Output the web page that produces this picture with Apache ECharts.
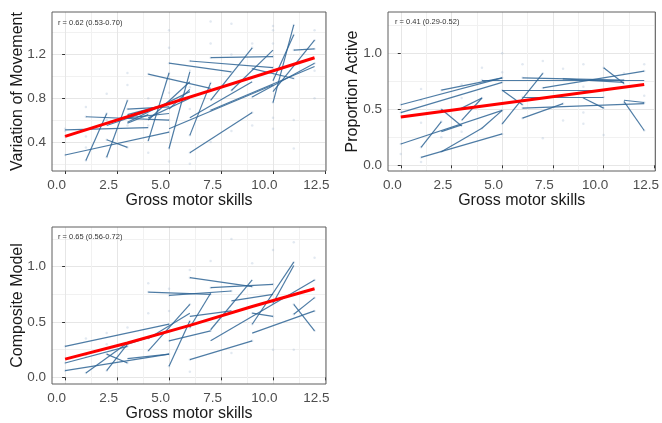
<!DOCTYPE html>
<html><head><meta charset="utf-8">
<script src="https://cdn.jsdelivr.net/npm/echarts@6/dist/echarts.min.js"></script>
<style>html,body{margin:0;padding:0;background:#fff}#c{width:662px;height:423px}</style>
</head><body><div id="c"></div>
<script>
// ---------- data ----------
const xTicks = [0, 2.5, 5, 7.5, 10, 12.5];
const xMinor = [1.25, 3.75, 6.25, 8.75, 11.25];
const xTitle = 'Gross motor skills';

const vomTitle = 'Variation of Movement';
const vomNote = 'r = 0.62 (0.53-0.70)';
const vomTicks = [0.4, 0.8, 1.2];
const vomMinor = [0.2, 0.6, 1.0, 1.4];
const vomFit = [[0, 0.45], [12, 1.17]];
const vomSegments = [
  [0,0.28,5,0.49],[0,0.51,4,0.53],[1,0.63,5,0.60],[1,0.23,2,0.66],[2,0.26,3,0.78],
  [2,0.42,3,0.35],[3,0.70,5,0.72],[3,0.58,6,0.86],[4,0.41,5,1.03],[4,0.60,6,0.95],
  [4,1.02,7,0.89],[5,0.34,6,1.04],[5,0.52,10,0.92],[5,1.12,8,1.04],[6,1.14,10,1.08],
  [6,0.46,7,0.94],[6,0.30,9,0.67],[7,1.17,10,1.18],[7,0.78,9,1.26],[7,0.69,12,1.09],
  [8,0.87,10,1.24],[9,0.81,12,1.12],[10,0.76,11,1.47],[10,0.86,12,1.33],[11,1.24,12,1.25],
  [10,0.96,11,1.38],[9,1.07,11,0.98],[3,0.62,5,0.66],[2,0.55,4,0.68],[6,0.62,9,0.95],
  [3,0.57,4,0.65],[4,0.62,6,0.80],[5,0.70,6,0.88],[3,0.65,5,0.75]
];
const vomPoints = [
  [0,0.28],[0,0.45],[0,0.50],[0,0.52],
  [1,0.23],[1,0.35],[1,0.45],[1,0.63],[1,0.72],
  [2,0.26],[2,0.42],[2,0.60],[2,0.66],[2,0.84],
  [3,0.35],[3,0.55],[3,0.70],[3,0.78],[3,0.92],[3,1.03],
  [4,0.30],[4,0.41],[4,0.55],[4,0.65],[4,0.80],[4,1.02],
  [5,0.22],[5,0.34],[5,0.49],[5,0.60],[5,0.72],[5,0.85],[5,1.03],[5,1.12],[5,1.26],[5,1.42],
  [6,0.20],[6,0.30],[6,0.46],[6,0.70],[6,0.90],[6,1.05],[6,1.14],
  [7,0.40],[7,0.69],[7,0.94],[7,1.17],[7,1.30],[7,1.50],
  [8,0.50],[8,0.87],[8,1.04],[8,1.20],[8,1.48],
  [9,0.55],[9,0.67],[9,0.81],[9,1.07],[9,1.26],[9,1.30],
  [10,0.52],[10,0.62],[10,0.76],[10,0.92],[10,1.08],[10,1.18],[10,1.30],[10,1.42],[10,1.46],
  [11,0.34],[11,0.60],[11,0.98],[11,1.24],[11,1.38],[11,1.47],
  [12,0.80],[12,1.05],[12,1.12],[12,1.25],[12,1.33],[12,1.42]
];

const paTitle = 'Proportion Active';
const paNote = 'r = 0.41 (0.29-0.52)';
const paTicks = [0, 0.5, 1.0];
const paMinor = [0.25, 0.75, 1.25];
const paFit = [[0, 0.43], [12, 0.72]];
const paSegments = [
  [0,0.54,5,0.78],[0,0.47,5,0.74],[0,0.19,5,0.49],[1,0.16,2,0.39],[1,0.07,5,0.28],
  [2,0.50,3,0.35],[2,0.12,4,0.33],[2,0.67,5,0.78],[3,0.51,4,0.60],[4,0.33,5,0.49],
  [4,0.76,12,0.76],[5,0.67,6,0.54],[5,0.37,7,0.82],[5,0.67,10,0.67],[6,0.42,8,0.55],
  [6,0.78,11,0.76],[6,0.61,10,0.61],[6,0.51,12,0.55],[7,0.69,12,0.84],[9,0.60,10,0.51],
  [10,0.87,11,0.73],[11,0.57,12,0.31],[11,0.58,12,0.56],[8,0.77,11,0.74],[2,0.30,3,0.36],
  [3,0.40,4,0.60]
];
const paPoints = [
  [0,0.10],[0,0.19],[0,0.47],[0,0.54],
  [1,0.03],[1,0.07],[1,0.16],[1,0.38],[1,0.58],[1,0.68],
  [2,0.12],[2,0.25],[2,0.39],[2,0.50],[2,0.67],
  [3,0.30],[3,0.36],[3,0.51],[3,0.60],[3,0.72],
  [4,0.33],[4,0.60],[4,0.76],[4,0.87],
  [5,0.28],[5,0.37],[5,0.49],[5,0.67],[5,0.74],[5,0.78],[5,0.83],[5,1.00],
  [6,0.42],[6,0.51],[6,0.54],[6,0.61],[6,0.78],[6,0.90],
  [7,0.24],[7,0.69],[7,0.82],[7,0.93],
  [8,0.40],[8,0.55],[8,0.77],[8,0.86],
  [9,0.37],[9,0.47],[9,0.60],[9,0.70],[9,0.90],
  [10,0.27],[10,0.51],[10,0.61],[10,0.67],[10,0.87],
  [11,0.55],[11,0.73],[11,0.76],[11,0.82],
  [12,0.31],[12,0.56],[12,0.62],[12,0.84],[12,0.90]
];

const cmTitle = 'Composite Model';
const cmNote = 'r = 0.65 (0.56-0.72)';
const cmTicks = [0, 0.5, 1.0];
const cmMinor = [0.25, 0.75, 1.25];
const cmFit = [[0, 0.165], [3, 0.31], [6, 0.47], [9, 0.64], [12, 0.80]];
const cmSegments = [
  [0,0.28,5,0.48],[0,0.06,5,0.21],[0,0.13,3,0.28],[1,0.04,3,0.31],[2,0.06,3,0.30],
  [2,0.21,3,0.13],[3,0.17,5,0.21],[4,0.77,7,0.75],[4,0.24,6,0.66],[5,0.10,6,0.51],
  [5,0.74,8,0.78],[5,0.33,7,0.42],[6,0.90,9,0.82],[6,0.16,9,0.33],[6,0.45,7,0.76],
  [7,0.81,10,0.84],[7,0.43,9,0.88],[7,0.33,12,0.88],[8,0.69,10,0.75],[9,0.48,11,1.04],
  [9,0.58,10,0.55],[9,0.40,12,0.60],[10,0.67,11,1.01],[11,0.66,12,0.42],[11,0.57,12,0.72],
  [3,0.30,5,0.42],[4,0.35,6,0.58],[6,0.55,8,0.60]
];
const cmPoints = [
  [0,0.06],[0,0.13],[0,0.28],
  [1,0.04],[1,0.20],[1,0.35],
  [2,0.06],[2,0.21],[2,0.30],[2,0.40],
  [3,0.13],[3,0.28],[3,0.31],[3,0.45],
  [4,0.24],[4,0.35],[4,0.58],[4,0.77],[4,0.85],
  [5,0.10],[5,0.21],[5,0.33],[5,0.48],[5,0.60],[5,0.74],[5,0.80],
  [6,0.05],[6,0.16],[6,0.45],[6,0.51],[6,0.66],[6,0.90],[6,0.97],
  [7,0.42],[7,0.75],[7,0.81],[7,1.05],
  [8,0.22],[8,0.60],[8,0.78],[8,1.25],
  [9,0.33],[9,0.48],[9,0.58],[9,0.82],[9,1.03],
  [10,0.25],[10,0.55],[10,0.67],[10,0.84],[10,1.15],
  [11,0.25],[11,0.57],[11,0.66],[11,1.04],[11,1.22],
  [12,0.42],[12,0.60],[12,0.72],[12,0.88],[12,1.08]
];

// ---------- chart ----------
const FONT = '"Liberation Sans", Arial, sans-serif';
const panels = [
  {left:52, top:12, width:274, height:159, ymin:0.134, ymax:1.588, yt:vomTicks, ym:vomMinor,
   title:vomTitle, note:vomNote, fit:vomFit, seg:vomSegments, pts:vomPoints, nameGap:26},
  {left:388, top:12, width:273, height:159, ymin:-0.051, ymax:1.367, yt:paTicks, ym:paMinor,
   title:paTitle, note:paNote, fit:paFit, seg:paSegments, pts:paPoints, nameGap:27},
  {left:52, top:227, width:274, height:158, ymin:-0.06, ymax:1.358, yt:cmTicks, ym:cmMinor,
   title:cmTitle, note:cmNote, fit:cmFit, seg:cmSegments, pts:cmPoints, nameGap:26}
];
const XMIN = -0.63, XMAX = 12.55;
const grid = [], xAxis = [], yAxis = [], series = [], graphic = [];
panels.forEach((p, i) => {
  grid.push({left:p.left, top:p.top, width:p.width, height:p.height, show:true,
    borderColor:'#5e5e5e', borderWidth:1, backgroundColor:'transparent', z:5});
  const fmt = v => (Math.round(v*10)/10).toFixed(1);
  xAxis.push({type:'value', gridIndex:i, min:XMIN, max:XMAX, position:'bottom',
    name:xTitle, nameLocation:'middle', nameGap:22, nameMoveOverlap:false,
    nameTextStyle:{fontFamily:FONT, fontSize:16, color:'#1a1a1a'},
    axisLine:{show:false},
    axisTick:{show:true, customValues:xTicks, length:3, lineStyle:{color:'#333', width:1}},
    axisLabel:{customValues:xTicks, formatter:fmt, fontFamily:FONT, fontSize:13.5, color:'#4d4d4d',
      margin:7, padding:[0,17,0,0]},
    splitLine:{show:true, lineStyle:{color:'#e6e6e6', width:1}}});
  xAxis.push({type:'value', gridIndex:i, min:XMIN, max:XMAX, position:'bottom',
    axisLine:{show:false}, axisTick:{show:false, customValues:xMinor}, axisLabel:{show:false},
    splitLine:{show:true, lineStyle:{color:'#f1f1f1', width:1}}});
  yAxis.push({type:'value', gridIndex:i, min:p.ymin, max:p.ymax, position:'left',
    name:p.title, nameLocation:'middle', nameGap:p.nameGap, nameMoveOverlap:false,
    nameTextStyle:{fontFamily:FONT, fontSize:16, color:'#1a1a1a'},
    axisLine:{show:false},
    axisTick:{show:true, customValues:p.yt, length:3, lineStyle:{color:'#333', width:1}},
    axisLabel:{customValues:p.yt, formatter:fmt, fontFamily:FONT, fontSize:13.5, color:'#4d4d4d', margin:6},
    splitLine:{show:true, lineStyle:{color:'#e6e6e6', width:1}}});
  yAxis.push({type:'value', gridIndex:i, min:p.ymin, max:p.ymax, position:'left',
    axisLine:{show:false}, axisTick:{show:false, customValues:p.ym}, axisLabel:{show:false},
    splitLine:{show:true, lineStyle:{color:'#f1f1f1', width:1}}});
  const xi = i*2, yi = i*2;
  series.push({type:'scatter', xAxisIndex:xi, yAxisIndex:yi, data:p.pts, symbolSize:2.5,
    itemStyle:{color:'rgba(150,175,205,0.35)'}, silent:true, z:2});
  series.push({type:'lines', coordinateSystem:'cartesian2d', xAxisIndex:xi, yAxisIndex:yi,
    data:p.seg.map(s => ({coords:[[s[0],s[1]],[s[2],s[3]]]})),
    lineStyle:{color:'#2f6595', width:1.2, opacity:0.85}, silent:true, z:3});
  series.push({type:'line', xAxisIndex:xi, yAxisIndex:yi, data:p.fit, showSymbol:false,
    lineStyle:{color:'#ff0000', width:3}, silent:true, z:4, animation:false});
});
const notePos = [[58,23],[395,22],[58,237]];
panels.forEach((p,i) => {
  graphic.push({type:'text', left:notePos[i][0], top:notePos[i][1]-4,
    style:{text:p.note, fontFamily:FONT, fontSize:7.5, fill:'#333'}, z:10});
});
const chart = echarts.init(document.getElementById('c'), null, {renderer:'canvas'});
chart.setOption({animation:false, grid, xAxis, yAxis, series, graphic});
</script></body></html>
